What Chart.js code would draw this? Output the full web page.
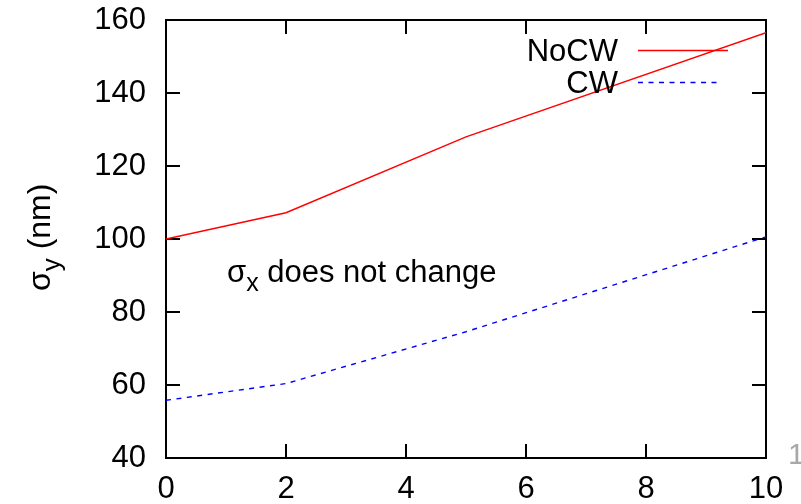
<!DOCTYPE html>
<html>
<head>
<meta charset="utf-8">
<script src="https://cdn.jsdelivr.net/npm/chart.js@4"></script>
<style>
  html, body { margin: 0; padding: 0; background: #fff; }
  #wrap { width: 801px; height: 504px; }
</style>
</head>
<body>
<div id="wrap"><canvas id="chart" width="801" height="504"></canvas></div>
<script>
"use strict";

const FONT = '"Liberation Sans", Arial, Helvetica, sans-serif';

// beam size vs. x, with and without CW
const xValues = [0, 2, 5, 10];
const noCwValues = [100, 107.2, 128, 156.5];
const cwValues = [55.8, 60.4, 74.6, 100.6];
const xTicks = [0, 2, 4, 6, 8, 10];
const yTicks = [40, 60, 80, 100, 120, 140, 160];

const toPoints = (ys) => xValues.map((x, i) => ({ x, y: ys[i] }));

// draw "base" followed by a lowered subscript, then an optional tail
function drawSubscripted(ctx, x, y, base, sub, tail, size) {
  ctx.font = `${size}px ${FONT}`;
  ctx.fillText(base, x, y);
  let w = ctx.measureText(base).width;
  ctx.font = `${Math.round(size * 0.82)}px ${FONT}`;
  ctx.fillText(sub, x + w, y + size * 0.3);
  w += ctx.measureText(sub).width;
  if (tail) {
    ctx.font = `${size}px ${FONT}`;
    ctx.fillText(tail, x + w, y);
  }
}

// gnuplot-like border with inward ticks on all four sides
const framePlugin = {
  id: "frame",
  beforeDatasetsDraw(chart) {
    const { ctx, chartArea: a, scales } = chart;
    const len = 14;
    ctx.save();
    ctx.strokeStyle = "#000";
    ctx.lineWidth = 2;
    ctx.beginPath();
    for (const v of xTicks) {
      const px = Math.round(scales.x.getPixelForValue(v));
      ctx.moveTo(px, a.bottom);
      ctx.lineTo(px, a.bottom - len);
      ctx.moveTo(px, a.top);
      ctx.lineTo(px, a.top + len);
    }
    for (const v of yTicks) {
      const py = Math.round(scales.y.getPixelForValue(v));
      ctx.moveTo(a.left, py);
      ctx.lineTo(a.left + len, py);
      ctx.moveTo(a.right, py);
      ctx.lineTo(a.right - len, py);
    }
    ctx.stroke();
    ctx.strokeRect(a.left, a.top, a.right - a.left, a.bottom - a.top);
    ctx.restore();
  },
  afterDraw(chart) {
    const { ctx } = chart;
    ctx.save();
    ctx.fillStyle = "#000";
    ctx.textBaseline = "alphabetic";

    // y axis title, rotated
    ctx.save();
    ctx.translate(50, 291);
    ctx.rotate(-Math.PI / 2);
    ctx.textAlign = "left";
    drawSubscripted(ctx, 0, 0, "\u03c3", "y", " (nm)", 32);
    ctx.restore();

    // note inside the plot
    ctx.textAlign = "left";
    drawSubscripted(ctx, 227, 282, "\u03c3", "x", " does not change", 31);

    // key: right-aligned titles with line samples
    const rows = [
      { ds: chart.data.datasets[0], y: 50 },
      { ds: chart.data.datasets[1], y: 82 },
    ];
    for (const { ds, y } of rows) {
      ctx.font = `31px ${FONT}`;
      ctx.textAlign = "right";
      ctx.fillText(ds.label, 618, y + 11);
      ctx.beginPath();
      ctx.strokeStyle = ds.borderColor;
      ctx.lineWidth = ds.borderWidth;
      ctx.setLineDash(ds.borderDash || []);
      ctx.moveTo(638, y + 0.5);
      ctx.lineTo(ds.borderDash ? 722 : 728, y + 0.5);
      ctx.stroke();
      ctx.setLineDash([]);
    }

    // stray label clipped at the right edge
    ctx.fillStyle = "#a8a8a8";
    ctx.font = `30px ${FONT}`;
    ctx.textAlign = "left";
    ctx.fillText("1", 788, 464);
    ctx.restore();
  },
};

new Chart(document.getElementById("chart"), {
  type: "line",
  data: {
    datasets: [
      {
        label: "NoCW",
        data: toPoints(noCwValues),
        borderColor: "#ff0000",
        borderWidth: 1.4,
        pointRadius: 0,
        tension: 0,
      },
      {
        label: "CW",
        data: toPoints(cwValues),
        borderColor: "#0000ff",
        borderWidth: 1.4,
        borderDash: [5, 5.5],
        pointRadius: 0,
        tension: 0,
      },
    ],
  },
  options: {
    responsive: false,
    animation: false,
    events: [],
    layout: { padding: { top: 20, right: 35, left: 0, bottom: 0 } },
    plugins: {
      legend: { display: false },
      tooltip: { enabled: false },
    },
    scales: {
      x: {
        type: "linear",
        min: 0,
        max: 10,
        afterBuildTicks: (scale) => {
          scale.ticks = xTicks.map((value) => ({ value }));
        },
        afterFit: (scale) => {
          scale.height = 46;
          scale.paddingLeft = 0;
          scale.paddingRight = 0;
        },
        grid: { display: false, drawTicks: false },
        border: { display: false },
        ticks: {
          color: "#000",
          font: { family: FONT, size: 31 },
          padding: 13,
          maxRotation: 0,
          autoSkip: false,
        },
      },
      y: {
        type: "linear",
        min: 40,
        max: 160,
        afterBuildTicks: (scale) => {
          scale.ticks = yTicks.map((value) => ({ value }));
        },
        afterFit: (scale) => {
          scale.width = 166;
          scale.paddingTop = 0;
          scale.paddingBottom = 0;
        },
        grid: { display: false, drawTicks: false },
        border: { display: false },
        ticks: {
          color: "#000",
          font: { family: FONT, size: 31 },
          padding: 20,
        },
      },
    },
  },
  plugins: [framePlugin],
});
</script>
</body>
</html>
